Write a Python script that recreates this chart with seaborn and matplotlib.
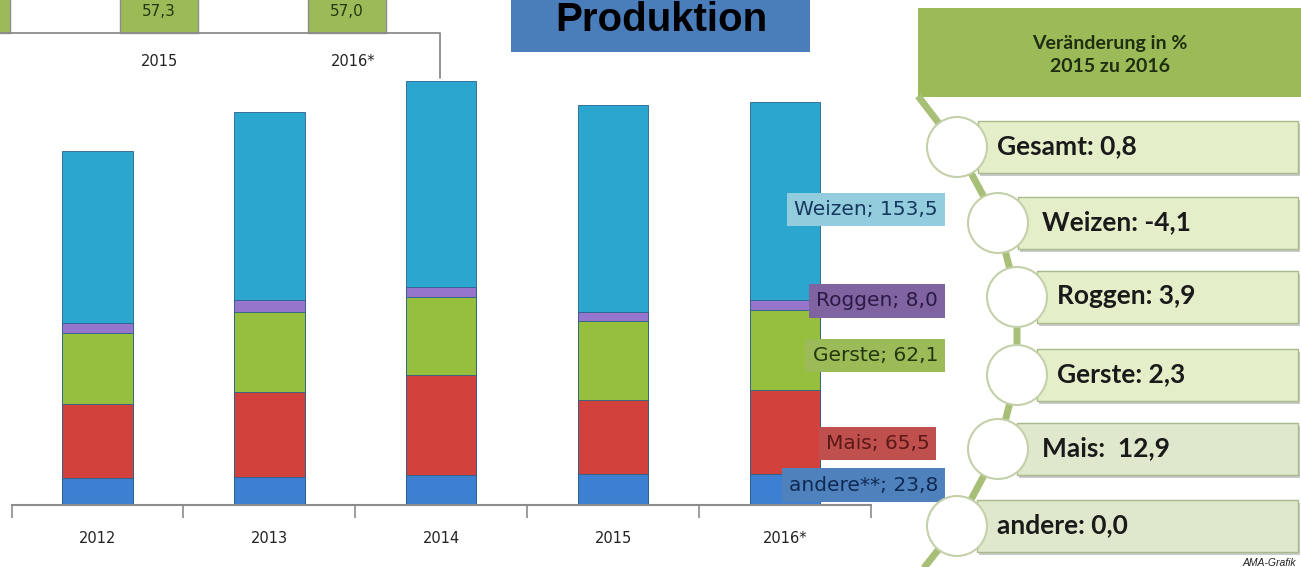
import matplotlib
matplotlib.use("Agg")
import matplotlib.pyplot as plt
import numpy as np
import pandas as pd
import seaborn as sns
from matplotlib.patches import Rectangle, Circle

# --- data ---
years = ['2012', '2013', '2014', '2015', '2016*']
andere = [21.0, 21.7, 23.3, 23.8, 23.8]
mais = [57.5, 66.0, 77.6, 58.0, 65.5]
gerste = [55.0, 62.0, 60.5, 60.7, 62.1]
roggen = [8.0, 9.3, 7.8, 7.7, 8.0]
weizen = [133.5, 146.0, 160.0, 160.1, 153.5]

series_names = ['andere**', 'Mais', 'Gerste', 'Roggen', 'Weizen']
series_colors = ['#3d80d2', '#d2413b', '#95bf3c', '#9676cc', '#2ba6cf']
label_bg = ['#4f81bd', '#c0504d', '#9bbb59', '#8064a2', '#93cddd']
label_fg = ['#0f2a52', '#5a1816', '#26360c', '#2a1a45', '#17375e']
label_shift = [3.6, -8.5, -4.6, 3.0, -7.0]

change_names = ['Gesamt', 'Weizen', 'Roggen', 'Gerste', 'Mais', 'andere']
change_values = [0.8, -4.1, 3.9, 2.3, 12.9, 0.0]

inset_years = ['2015', '2016*']
inset_values = [57.3, 57.0]


def de(v):
    return f"{v:.1f}".replace('.', ',')


df = pd.DataFrame({'Jahr': years, 'andere**': andere, 'Mais': mais,
                   'Gerste': gerste, 'Roggen': roggen, 'Weizen': weizen})
cum = df[series_names].cumsum(axis=1)

sns.set_style("white")
fig = plt.figure(figsize=(13.01, 5.67), dpi=100)

# main stacked bar chart
ax = fig.add_axes([11.5 / 1301, 62 / 567, (871 - 11.5) / 1301, 505 / 567])
for name, col in reversed(list(zip(series_names, series_colors))):
    sns.barplot(x=df['Jahr'], y=cum[name], color=col, saturation=1, width=0.41,
                errorbar=None, edgecolor='#2b5f8a', linewidth=0.6, ax=ax)
ax.set_ylim(0, 505 / 1.288)
ax.set_xlim(-0.5, 4.5)
ax.set_xlabel('')
ax.set_ylabel('')
ax.set_yticks([])
for s in ['top', 'right', 'left']:
    ax.spines[s].set_visible(False)
ax.spines['bottom'].set_color('#8c8c8c')
ax.spines['bottom'].set_linewidth(1.5)
ax.set_xticks(np.arange(-0.5, 5, 1), minor=True)
ax.tick_params(axis='x', which='minor', bottom=True, length=9, width=1.2,
               color='#8c8c8c', direction='out')
ax.tick_params(axis='x', which='major', length=0, pad=19, labelsize=10.5, labelcolor='#222222')
ax.patch.set_alpha(0)

# data labels at the 2016 bar
last = len(years) - 1
bottoms = cum.iloc[last] - df[series_names].iloc[last]
for i, name in enumerate(series_names):
    val = df[name].iloc[last]
    ymid = bottoms[name] + val / 2 + label_shift[i]
    xr = 4.89 if name != 'Mais' else 4.84
    ax.text(xr, ymid, f"{name}; {de(val)}", ha='right', va='center', fontsize=14.5,
            color=label_fg[i], zorder=10,
            bbox=dict(boxstyle='square,pad=0.35', fc=label_bg[i], ec='none'))

# overlay in pixel coordinates
ov = fig.add_axes([0, 0, 1, 1])
ov.set_xlim(0, 1301)
ov.set_ylim(567, 0)
ov.axis('off')
ov.patch.set_alpha(0)

# title box
ov.add_patch(Rectangle((511, 0), 299, 52, fc='#4a7ebb', ec='none'))
ov.text(661, 20, 'Produktion', ha='center', va='center', fontsize=29,
        fontweight='bold', family='Liberation Sans', color='black')

# clipped inset chart at top-left
ov.plot([0, 440, 440], [33, 33, 78], color='#8c8c8c', lw=1.3)
ov.add_patch(Rectangle((-2, -2), 12, 35, fc='#9bbb59', ec='#8c8c8c', lw=1))
for i, (yr, v) in enumerate(zip(inset_years, inset_values)):
    cx = 159 + i * 188
    ov.add_patch(Rectangle((cx - 39, -2), 78, 35, fc='#9bbb59', ec='#8c8c8c', lw=1))
    ov.text(cx, 12, de(v), ha='center', va='center', fontsize=11, color='#26360c')
    ov.text(cx + (6 if i else 0), 62, yr, ha='center', va='center', fontsize=10.5, color='#222222')

# right panel header
ov.add_patch(Rectangle((918, 8), 383, 89, fc='#9bbb59', ec='none'))
ov.text(1110, 55, 'Veränderung in %\n2015 zu 2016', ha='center', va='center',
        fontsize=14, fontweight='bold', family='Lato', color='#1f2d10', linespacing=1.5)

# change list
cx = [957, 998, 1017, 1017, 998, 957]
cy = [147, 223, 297, 375, 449, 526]
ov.plot([918] + cx + [916], [96] + cy + [578], color='#a8bf78', lw=5, zorder=1,
        solid_capstyle='butt')
box_left = [978, 1018, 1037, 1037, 1017, 977]
tx = [997, 1042, 1057, 1057, 1042, 997]
for i, (n, v) in enumerate(zip(change_names, change_values)):
    ov.add_patch(Rectangle((box_left[i] + 2, cy[i] - 23), 1298 - box_left[i], 52,
                           fc='#c9c9c9', ec='none', zorder=2))
    fc = '#e4efca' if i < 4 else '#dfe8cc'
    ov.add_patch(Rectangle((box_left[i], cy[i] - 26), 1298 - box_left[i], 52,
                           fc=fc, ec='#a9b98a', lw=1, zorder=3))
    ov.add_patch(Circle((cx[i], cy[i]), 30, fc='white', ec='#c4d0aa', lw=1.5, zorder=4))
    sep = ':  ' if n == 'Mais' else ': '
    ov.text(tx[i], cy[i] - 1, f"{n}{sep}{de(v)}", ha='left', va='center', fontsize=19,
            fontweight='bold', family='Lato', color='#1a1a1a', zorder=5)

ov.text(1296, 563, 'AMA-Grafik', ha='right', va='center', fontsize=7.5, style='italic',
        family='Liberation Sans', color='#222222')

fig.savefig('out.png', dpi=100)
